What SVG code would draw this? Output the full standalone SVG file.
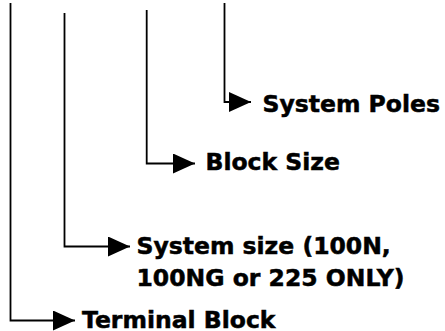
<svg xmlns="http://www.w3.org/2000/svg" width="445" height="331" viewBox="0 0 445 331">
<style>
.c{fill:none;stroke:#000;stroke-width:1.8}
.t{font-family:"DejaVu Sans",Verdana,sans-serif;font-weight:bold;font-size:23.5px;fill:#000;stroke:#000;stroke-width:0.5}
</style>
<defs>
<marker id="ah" markerUnits="userSpaceOnUse" markerWidth="22" markerHeight="20" refX="22" refY="10" orient="auto" viewBox="0 0 22 20">
<path d="M0,0 L22,10 L0,20 Z" fill="#000"/>
</marker>
</defs>
<rect width="445" height="331" fill="#fff"/>
<g id="connectors">
<path class="c" d="M10.5,3 V320.5 H75" marker-end="url(#ah)"/>
<path class="c" d="M64.5,13 V246.5 H130" marker-end="url(#ah)"/>
<path class="c" d="M146.7,10 V163.5 H195" marker-end="url(#ah)"/>
<path class="c" d="M224.5,3 V102 H251" marker-end="url(#ah)"/>
</g>
<g id="system-poles"><text class="t" x="262.5" y="112">System Poles</text></g>
<g id="block-size"><text class="t" x="205.5" y="170">Block Size</text></g>
<g id="system-size"><text class="t" x="136.5" y="254">System size (100N,</text><text class="t" x="136.5" y="285.5">100NG or 225 ONLY)</text></g>
<g id="terminal-block"><text class="t" x="82" y="328">Terminal Block</text></g>
</svg>
